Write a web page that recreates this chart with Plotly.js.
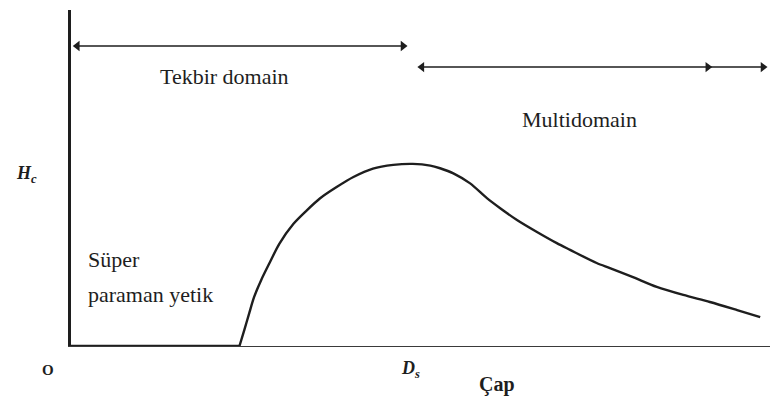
<!DOCTYPE html>
<html>
<head>
<meta charset="utf-8">
<script src="https://cdn.plot.ly/plotly-3.0.1.min.js"></script>
<style>
  html, body { margin: 0; padding: 0; background: #fff; }
  #chart { width: 770px; height: 399px; }
</style>
</head>
<body>
<div id="chart"></div>
<script>
// Coercivity Hc versus particle diameter (arbitrary units, 0–100)
// Superparamagnetic region: Hc stays at zero
const flatDiameter = [0, 24.1];
const flatHc = [0, 0];

// Rise to the single-domain peak at Ds, then decay in the multidomain region
const curveDiameter = [24.1, 24.8, 25.5, 26.2, 27.2, 28.4, 29.8, 31.8, 33.7, 35.6, 38.0, 40.4, 43.2, 46.1, 48.9, 51.4, 52.8, 54.7, 57.1, 59.5, 61.4, 63.8, 66.6, 69.5, 71.4, 75.2, 77.1, 80.4, 83.8, 87.6, 91.4, 95.3, 98.6];
const curveHc       = [0,    4.8,  9.8,  14.6, 19.6, 24.7, 30.4, 36.3, 40.3, 43.9, 47.3, 50.3, 52.8, 53.9, 54.2, 53.7, 52.9, 51.4, 48.4, 44.0, 41.0, 37.5, 34.0, 30.6, 28.6, 24.7, 23.2, 20.5, 17.6, 15.2, 13.1, 10.7, 8.6];

// Domain-regime spans along the diameter axis and the height they are drawn at
const singleDomainSpan = [0.9, 47.5];
const singleDomainLevel = 89.3;
const multiDomainSpan = [50.2, 99.0];
const multiDomainInnerHead = 91.1;
const multiDomainLevel = 83.0;

const textFont = 'Liberation Serif';
const ink = '#1e1e1e';

function spanLine(span, level) {
  return {
    x: span, y: [level, level], mode: 'lines',
    line: { color: ink, width: 1.5 }, hoverinfo: 'skip', showlegend: false
  };
}

function heads(xs, level, symbol) {
  return {
    x: xs, y: xs.map(() => level), mode: 'markers',
    marker: { symbol: symbol, size: 9, color: ink, line: { width: 0 } },
    hoverinfo: 'skip', showlegend: false
  };
}

const traces = [
  {
    x: flatDiameter, y: flatHc, mode: 'lines',
    line: { color: ink, width: 2.6 }, hoverinfo: 'skip', showlegend: false
  },
  {
    x: curveDiameter, y: curveHc, mode: 'lines',
    line: { color: ink, width: 2.4, shape: 'spline', smoothing: 0.8 },
    hoverinfo: 'skip', showlegend: false
  },
  spanLine(singleDomainSpan, singleDomainLevel),
  heads([singleDomainSpan[0]], singleDomainLevel, 'triangle-left'),
  heads([singleDomainSpan[1]], singleDomainLevel, 'triangle-right'),
  spanLine(multiDomainSpan, multiDomainLevel),
  heads([multiDomainSpan[0]], multiDomainLevel, 'triangle-left'),
  heads([multiDomainInnerHead, multiDomainSpan[1]], multiDomainLevel, 'triangle-right')
];

function label(text, x, y, size, opts) {
  return Object.assign({
    text: text, x: x, y: y, xref: 'paper', yref: 'paper',
    showarrow: false, xanchor: 'center', yanchor: 'middle',
    font: { family: textFont, size: size, color: ink }
  }, opts || {});
}

const layout = {
  width: 770, height: 399,
  margin: { l: 71, r: 0, t: 10, b: 53 },
  paper_bgcolor: '#fff', plot_bgcolor: '#fff',
  showlegend: false,
  xaxis: {
    range: [0, 100], showgrid: false, zeroline: false,
    showticklabels: false, ticks: '',
    showline: true, linecolor: '#3a3a3a', linewidth: 1.4
  },
  yaxis: {
    range: [0, 100], showgrid: false, zeroline: false,
    showticklabels: false, ticks: '',
    showline: true, linecolor: ink, linewidth: 2.6
  },
  annotations: [
    label('Tekbir domain', 0.220, 0.801, 22),
    label('Multidomain', 0.727, 0.675, 22),
    label('Süper', 0.021, 0.256, 22, { xanchor: 'left' }),
    label('paraman yetik', 0.021, 0.152, 22, { xanchor: 'left' }),
    label('<b><i>H<sub>c</sub></i></b>', -0.063, 0.509, 18),
    label('<b>O</b>', -0.033, -0.071, 15),
    label('<b><i>D<sub>s</sub></i></b>', 0.486, -0.071, 18),
    label('<b>Çap</b>', 0.609, -0.116, 20)
  ]
};

Plotly.newPlot('chart', traces, layout, { staticPlot: true, displayModeBar: false });
</script>
</body>
</html>
